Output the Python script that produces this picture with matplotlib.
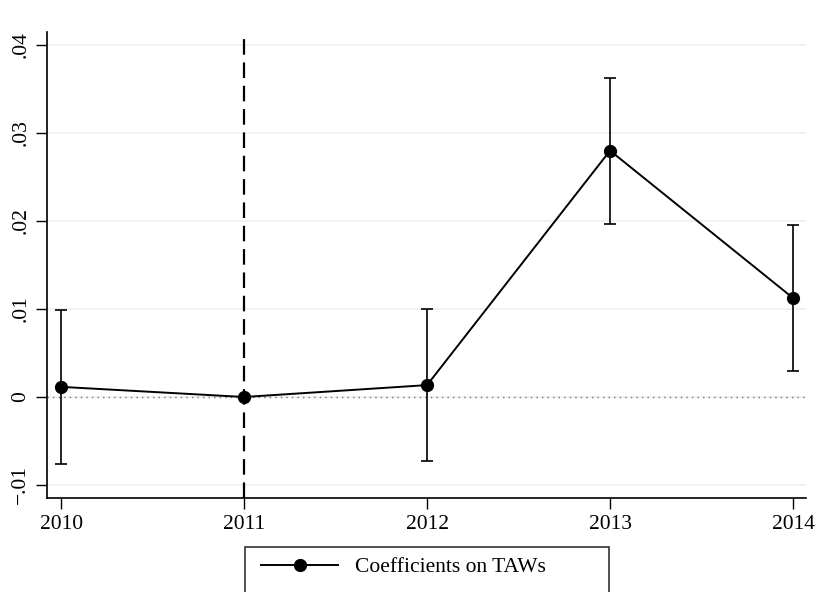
import numpy as np
import matplotlib.pyplot as plt
from matplotlib.patches import Rectangle
from matplotlib.lines import Line2D

years = [2010, 2011, 2012, 2013, 2014]
coef = [0.00115, 0.0, 0.00135, 0.0280, 0.01125]
ci_low = [-0.0076, np.nan, -0.0073, 0.0197, 0.0030]
ci_high = [0.0099, np.nan, 0.0100, 0.0362, 0.0195]
yticks = [-0.01, 0, 0.01, 0.02, 0.03, 0.04]
ytick_labels = ['\u2212.01', '0', '.01', '.02', '.03', '.04']

plt.rcParams['font.family'] = ['Liberation Serif', 'DejaVu Serif']

W, H = 819, 592
fig = plt.figure(figsize=(W / 100, H / 100), dpi=100)
ax = fig.add_axes([47 / W, 1 - 498 / H, (806 - 47) / W, (498 - 32) / H])

for y in yticks:
    ax.axhline(y, color='#eaf2f3', lw=1.2, zorder=0)
ax.axhline(0, color='#707070', lw=1.0, ls=(0, (1, 3)), zorder=1)
ax.axvline(2011, color='black', lw=1.6, ls=(0, (7, 3.5)), zorder=2)

for x, lo, hi in zip(years, ci_low, ci_high):
    if np.isnan(lo):
        continue
    ax.errorbar([x], [(lo + hi) / 2], yerr=[[(hi - lo) / 2], [(hi - lo) / 2]],
                fmt='none', ecolor='black', elinewidth=1.2, capsize=4, capthick=1.2, zorder=3)

ax.plot(years, coef, color='black', lw=1.4, marker='o', ms=8.5, zorder=4)

ax.set_xlim(2009.923, 2014.071)
ax.set_ylim(-0.01148, 0.04148)
ax.set_xticks(years)
ax.set_xticklabels([str(y) for y in years], fontsize=15.5)
ax.set_yticks(yticks)
ax.set_yticklabels(ytick_labels, fontsize=15.5, rotation=90, va='center')
ax.tick_params(direction='out', length=8, width=1.0, pad=4)
ax.spines['top'].set_visible(False)
ax.spines['right'].set_visible(False)
for s in ('left', 'bottom'):
    ax.spines[s].set_linewidth(1.2)

# legend box below the plot
fig.patches.append(Rectangle((245 / W, 1 - 610 / H), (609 - 245) / W, (610 - 547) / H,
                             transform=fig.transFigure, fill=False, ec='#333333', lw=1.2))
handle = Line2D([], [], color='black', lw=1.4, marker='o', ms=8.5)
fig.legend([handle], ['Coefficients on TAWs'], loc='center left',
           bbox_to_anchor=(250 / W, 1 - 567 / H), frameon=False, fontsize=15.5,
           handlelength=3.6, handletextpad=0.8, borderpad=0)

fig.savefig('out.png', dpi=100)
